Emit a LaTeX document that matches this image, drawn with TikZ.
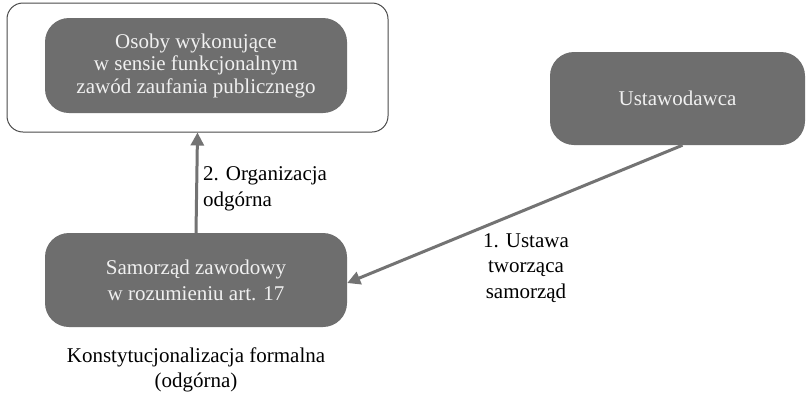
\documentclass[tikz,border=0pt]{standalone}
\usepackage{fontspec}
\setmainfont{Liberation Serif}
\usetikzlibrary{arrows.meta}
\definecolor{boxgray}{HTML}{6E6E6E}
\definecolor{arrgray}{HTML}{737373}
\definecolor{framegray}{HTML}{4A4A4A}
\begin{document}
\begin{tikzpicture}[x=1pt,y=-1pt,
  graybox/.style={fill=boxgray, rounded corners=24pt, text=white!94!black, align=center, inner sep=0pt,
    font=\fontsize{21}{22.5}\selectfont},
  lbl/.style={text=black, inner sep=0pt, font=\fontsize{21}{25.5}\selectfont},
  conn/.style={draw=arrgray, line width=3pt, -{Triangle[length=13pt,width=13pt]}}]
\useasboundingbox[fill=white] (0,0) rectangle (808,397);
\node[draw=framegray, line width=1pt, rounded corners=16pt, minimum width=381pt, minimum height=129pt, inner sep=0pt] (outer) at (197.5,67.5) {};
\node[graybox, minimum width=302pt, minimum height=95pt] (top) at (196,65.5) {Osoby wykonujące\\w sensie funkcjonalnym\\zawód zaufania publicznego};
\node[graybox, minimum width=255pt, minimum height=93pt] (ustaw) at (677.5,98.5) {Ustawodawca};
\node[graybox, minimum width=302pt, minimum height=94pt, font=\fontsize{21}{26}\selectfont] (samo) at (196,280) {Samorząd zawodowy\\w rozumieniu art. 17};
\node[lbl, align=left, anchor=west] (l2) at (203,189) {2. Organizacja\\odgórna};
\node[lbl, align=center] (l1) at (526,268) {1. Ustawa\\tworząca\\samorząd};
\node[lbl, align=center] (bot) at (196,370) {Konstytucjonalizacja formalna\\(odgórna)};
\draw[conn] (samo.north) -- (outer.south);
\draw[conn] ([xshift=5pt]ustaw.south) -- ([yshift=-3pt]samo.east);
\end{tikzpicture}
\end{document}
